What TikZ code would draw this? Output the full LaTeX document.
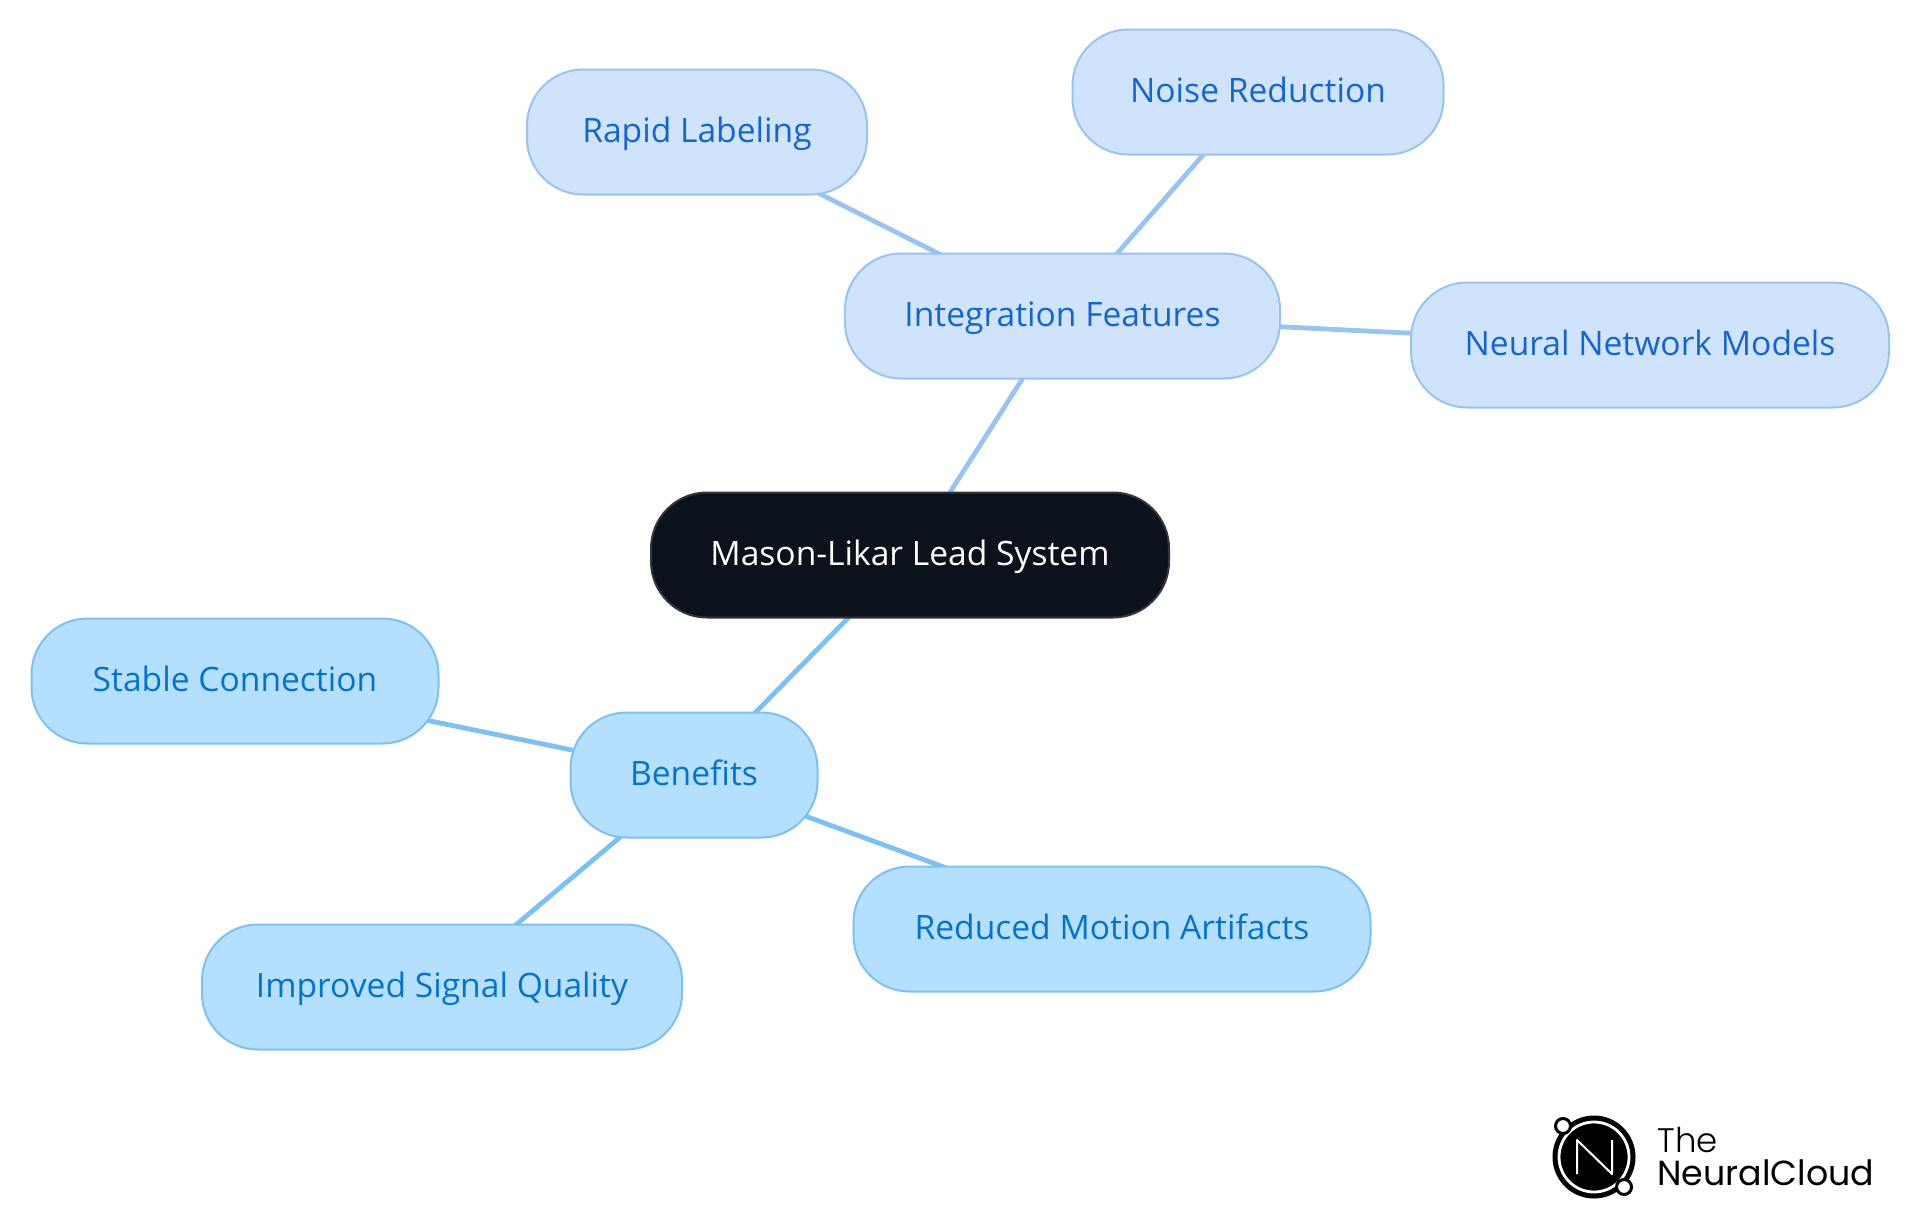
\documentclass[tikz,border=0pt]{standalone}
\usepackage{fontspec}
\setmainfont{Open Sans}
\newfontfamily\logofont{Poppins}
\newfontfamily\logolight{Poppins Light}
\usetikzlibrary{backgrounds}
\definecolor{rootfill}{HTML}{0B121B}
\definecolor{rootline}{HTML}{32363C}
\definecolor{featfill}{HTML}{CFE3FC}
\definecolor{featline}{HTML}{99C4F2}
\definecolor{feattext}{HTML}{1565CC}
\definecolor{benefill}{HTML}{B5DFFF}
\definecolor{beneline}{HTML}{7EC0F2}
\definecolor{benetext}{HTML}{0673C9}

\begin{document}
\begin{tikzpicture}[
    x=0.5pt, y=-0.5pt,
    pill/.style={draw, line width=1pt, rounded corners=28pt, minimum height=62.5pt, inner sep=0pt, text height=12.1pt, text depth=1.6pt, font=\fontsize{16.8}{20}\selectfont},
    root/.style={pill, fill=rootfill, draw=rootline, text=white},
    feat/.style={pill, fill=featfill, draw=featline, text=feattext},
    bene/.style={pill, fill=benefill, draw=beneline, text=benetext},
    featlink/.style={draw=featline, line width=2.4pt},
    benelink/.style={draw=beneline, line width=2.4pt},
]
\useasboundingbox (0,0) rectangle (1920,1215);

% Central topic
\node[root, minimum width=259pt] (mason) at (910,555) {Mason-Likar Lead System};

% Upper branch
\node[feat, minimum width=217.5pt] (integration) at (1062.5,316) {Integration Features};
\node[feat, minimum width=185.5pt] (noise) at (1258,92) {Noise Reduction};
\node[feat, minimum width=170pt] (rapid) at (697,132) {Rapid Labeling};
\node[feat, minimum width=239pt] (neural) at (1650,345) {Neural Network Models};

% Lower branch
\node[bene, minimum width=123.5pt] (benefits) at (694,775) {Benefits};
\node[bene, minimum width=203.5pt] (stable) at (235,681) {Stable Connection};
\node[bene, minimum width=240pt] (improved) at (442,987) {Improved Signal Quality};
\node[bene, minimum width=258.5pt] (reduced) at (1112,929) {Reduced Motion Artifacts};

% Links sit behind the pills
\begin{scope}[on background layer]
  \draw[featlink] (mason.center) -- (integration.center);
  \draw[featlink] (integration.center) -- (noise.center);
  \draw[featlink] (integration.center) -- (rapid.center);
  \draw[featlink] (integration.center) -- (neural.center);
  \draw[benelink] (mason.center) -- (benefits.center);
  \draw[benelink] (benefits.center) -- (stable.center);
  \draw[benelink] (benefits.center) -- (improved.center);
  \draw[benelink] (benefits.center) -- (reduced.center);
\end{scope}

% Logo
\fill[black] (1594,1157) circle (41.5);
\draw[white, line width=1.4pt] (1594,1157) circle (35);
\draw[white, line width=1pt, line join=round] (1577,1174) -- (1577,1140) -- (1612,1174) -- (1612,1140);
\draw[black, fill=white, line width=1.5pt] (1563,1126) circle (7.5);
\draw[black, fill=white, line width=1.5pt] (1624,1187) circle (7.5);
\node[anchor=base west, inner sep=0pt, font=\logolight\fontsize{17}{20}\selectfont] (logothe) at (1657,1152) {The};
\node[anchor=base west, inner sep=0pt, font=\logofont\fontsize{17.4}{20}\selectfont] (logoname) at (1657,1185) {NeuralCloud};
\end{tikzpicture}
\end{document}
